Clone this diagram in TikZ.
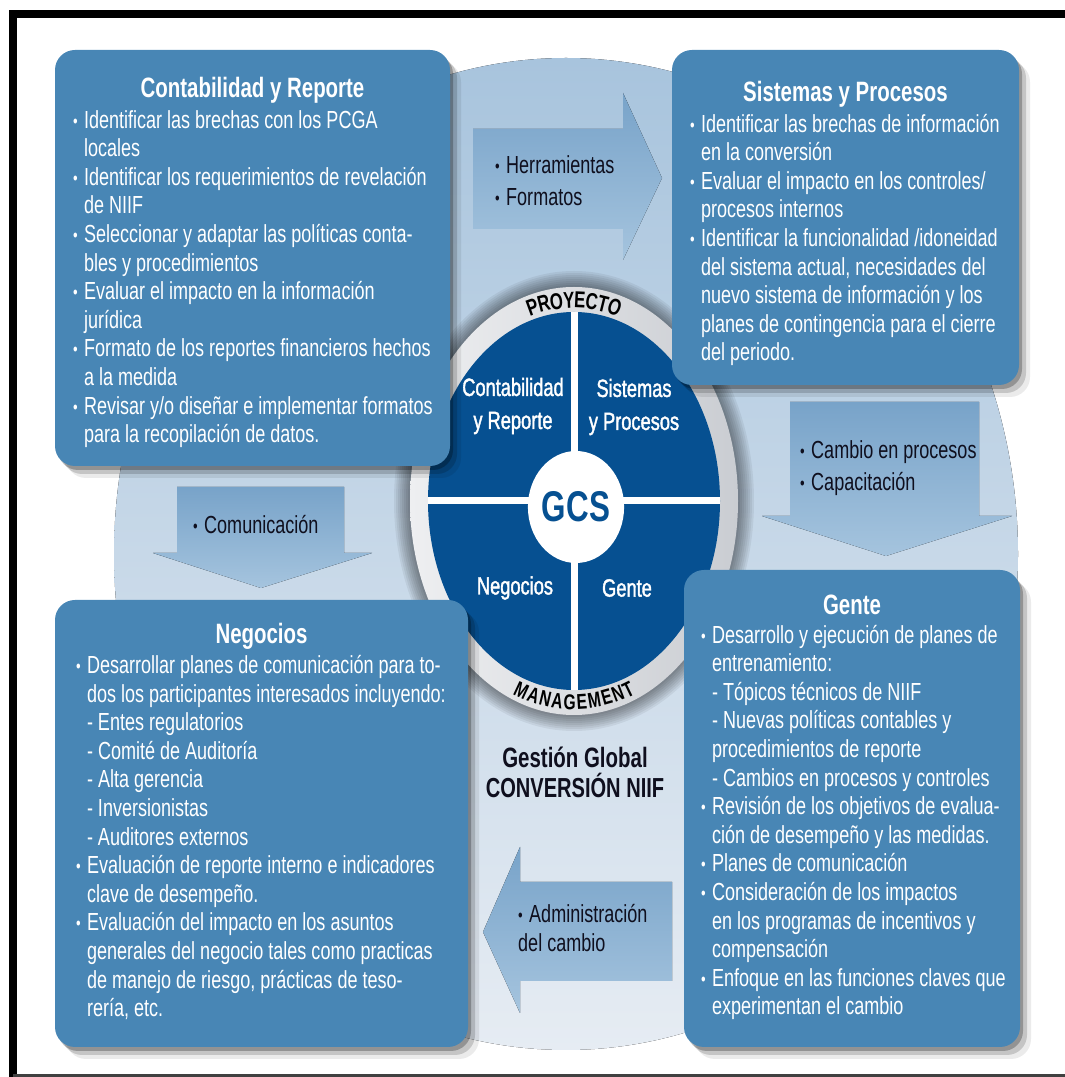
\documentclass[tikz,border=0pt]{standalone}
\usepackage{fontspec}
\setmainfont{Liberation Sans}[FakeStretch=0.73]
\newfontfamily\labelfamily{Liberation Sans}[FakeStretch=0.73,FakeBold=1.5]
\usetikzlibrary{shapes.geometric,shadows}

\definecolor{panelblue}{RGB}{72,134,181}
\definecolor{diskblue}{RGB}{6,80,145}
\definecolor{ringlight}{RGB}{238,239,241}
\definecolor{ringdark}{RGB}{202,205,210}
\definecolor{bgtop}{RGB}{168,196,221}
\definecolor{bgbottom}{RGB}{230,236,243}
\definecolor{arrowtop}{RGB}{120,163,201}
\definecolor{arrowbottom}{RGB}{165,196,222}
\definecolor{inkblack}{RGB}{15,15,30}

\newcommand{\bul}{\makebox[11pt][l]{\raisebox{1pt}{\fontsize{18}{18}\selectfont\textbullet}}}
\newcommand{\ind}{\hspace*{11pt}}

\begin{document}
\begin{tikzpicture}[
  x=1pt, y=1pt,
  panel/.style={rectangle, rounded corners=20pt, fill=panelblue, inner sep=0pt,
    drop shadow={shadow xshift=3pt, shadow yshift=-4pt, opacity=.25, fill=black},
    drop shadow={shadow xshift=7pt, shadow yshift=-8pt, opacity=.16, fill=black},
    drop shadow={shadow xshift=11pt, shadow yshift=-12pt, opacity=.08, fill=black}},
  paneltitle/.style={anchor=base, inner sep=0pt, text=white,
    font=\bfseries\fontsize{28}{32}\selectfont},
  paneltext/.style={anchor=north west, align=left, inner sep=0pt, text=white,
    font=\fontsize{24.7}{28.6}\selectfont},
  arrowtext/.style={anchor=north west, align=left, inner sep=0pt, text=inkblack,
    font=\fontsize{24.7}{32}\selectfont},
  quadlabel/.style={align=center, inner sep=0pt, text=white,
    font=\labelfamily\fontsize{25}{33}\selectfont},
  ringletter/.style={inner sep=0pt, text=black,
    font=\bfseries\fontsize{23}{23}\selectfont},
  flowarrow/.style={top color=arrowtop, bottom color=arrowbottom}
  ]

  \useasboundingbox (0,0) rectangle (1065,1077);

  % backdrop
  \fill[top color=bgtop, bottom color=bgbottom] (566,523) ellipse [x radius=452, y radius=496];

  % block arrows between the panels
  \fill[flowarrow] (473,848) -- (623,848) -- (623,817) -- (662,899)
    -- (623,984) -- (623,948) -- (473,948) -- cycle;
  \fill[flowarrow] (790,675) -- (979,675) -- (979,561) -- (1012,561)
    -- (886,521) -- (762,561) -- (790,561) -- cycle;
  \fill[flowarrow] (177,590) -- (344,590) -- (344,524) -- (372,524)
    -- (261,489) -- (153,524) -- (177,524) -- cycle;
  \fill[flowarrow] (672,96) -- (672,195) -- (520,195) -- (520,230)
    -- (483,145) -- (520,64) -- (520,96) -- cycle;

  \node[arrowtext] (tools)   at (495,926) {\strut\bul Herramientas\\\bul Formatos};
  \node[arrowtext] (change)  at (800,641) {\strut\bul Cambio en procesos\\\bul Capacitación};
  \node[arrowtext] (comm)    at (193,566) {\strut\bul Comunicación};
  \node[arrowtext, font=\fontsize{24.7}{29}\selectfont]
                   (admin)   at (518,175) {\strut\bul Administración\\del cambio};

  % ring with its soft shadow
  \foreach \d [evaluate=\d as \rx using 164+\d, evaluate=\d as \ry using 214+\d] in {2,4,...,16}
    \fill[black, opacity=.06] (574,576) ellipse [x radius=\rx, y radius=\ry];
  \node[ellipse, minimum width=328pt, minimum height=428pt, inner sep=0pt,
        left color=ringlight, right color=ringdark] (ring) at (574,576) {};
  \node[ellipse, minimum width=292pt, minimum height=378pt, inner sep=0pt,
        fill=diskblue] (disk) at (574,576) {};
  \draw[white, line width=7pt] (disk.north) -- (disk.south);
  \draw[white, line width=7pt] (disk.west) -- (disk.east);
  \node[ellipse, fill=white, minimum width=90pt, minimum height=112pt, inner sep=0pt,
        text=diskblue, font=\bfseries\fontsize{43}{43}\selectfont] (gcs) at (576,570) {GCS};

  \node[quadlabel] (qcont)  at (513,671) {Contabilidad\\y Reporte};
  \node[quadlabel] (qsist)  at (634,670) {Sistemas\\y Procesos};
  \node[quadlabel] (qneg)   at (515,489) {Negocios};
  \node[quadlabel] (qgente) at (627,489) {Gente};

  % lettering around the ring, one letter per angle
  \foreach \ch/\t [count=\i] in {P/105.6,R/101.2,O/96.5,Y/91.9,E/87.8,C/83.4,T/79.2,O/74.8} {
    \pgfmathsetmacro\r{atan2(-201*cos(\t),155*sin(\t))}
    \node[ringletter, rotate=\r] (proj\i) at ([shift={(\t:155 and 201)}]ring.center) {\ch};
  }
  \foreach \ch/\t [count=\i] in {M/250.2,A/254.9,N/259.4,A/263.8,G/268.4,
                                 E/272.9,M/277.5,E/282.2,N/286.4,T/290.5} {
    \pgfmathsetmacro\r{atan2(201*cos(\t),-155*sin(\t))}
    \node[ringletter, rotate=\r, font=\bfseries\fontsize{21.5}{21.5}\selectfont]
      (mgmt\i) at ([shift={(\t:155 and 201)}]ring.center) {\ch};
  }

  % the four panels
  \node[panel, minimum width=395pt, minimum height=416pt] (cont)  at (252.5,819) {};
  \node[panel, minimum width=347pt, minimum height=335pt] (sist)  at (845.5,859.5) {};
  \node[panel, minimum width=413pt, minimum height=447pt] (neg)   at (261.5,253.5) {};
  \node[panel, minimum width=336pt, minimum height=477pt] (gente) at (852,268.5) {};

  \node[paneltitle] (cont title) at ([yshift=-48pt]cont.north) {Contabilidad y Reporte};
  \node[paneltext] (cont text) at ([xshift=18pt,yshift=-58pt]cont.north west)
    {\strut\bul Identificar las brechas con los PCGA\\
     \ind locales\\
     \bul Identificar los requerimientos de revelación\\
     \ind de NIIF\\
     \bul Seleccionar y adaptar las políticas conta-\\
     \ind bles y procedimientos\\
     \bul Evaluar el impacto en la información\\
     \ind jurídica\\
     \bul Formato de los reportes financieros hechos\\
     \ind a la medida\\
     \bul Revisar y/o diseñar e implementar formatos\\
     \ind para la recopilación de datos.};

  \node[paneltitle] (sist title) at ([yshift=-52pt]sist.north) {Sistemas y Procesos};
  \node[paneltext] (sist text) at ([xshift=18pt,yshift=-62pt]sist.north west)
    {\strut\bul Identificar las brechas de información\\
     \ind en la conversión\\
     \bul Evaluar el impacto en los controles/\\
     \ind procesos internos\\
     \bul Identificar la funcionalidad /idoneidad\\
     \ind del sistema actual, necesidades del\\
     \ind nuevo sistema de información y los\\
     \ind planes de contingencia para el cierre\\
     \ind del periodo.};

  \node[paneltitle] (neg title) at ([yshift=-44pt]neg.north) {Negocios};
  \node[paneltext] (neg text) at ([xshift=21pt,yshift=-53.5pt]neg.north west)
    {\strut\bul Desarrollar planes de comunicación para to-\\
     \ind dos los participantes interesados incluyendo:\\
     \ind - Entes regulatorios\\
     \ind - Comité de Auditoría\\
     \ind - Alta gerencia\\
     \ind - Inversionistas\\
     \ind - Auditores externos\\
     \bul Evaluación de reporte interno e indicadores\\
     \ind clave de desempeño.\\
     \bul Evaluación del impacto en los asuntos\\
     \ind generales del negocio tales como practicas\\
     \ind de manejo de riesgo, prácticas de teso-\\
     \ind rería, etc.};

  \node[paneltitle] (gente title) at ([yshift=-45pt]gente.north) {Gente};
  \node[paneltext] (gente text) at ([xshift=17pt,yshift=-53pt]gente.north west)
    {\strut\bul Desarrollo y ejecución de planes de\\
     \ind entrenamiento:\\
     \ind - Tópicos técnicos de NIIF\\
     \ind - Nuevas políticas contables y\\
     \ind procedimientos de reporte\\
     \ind - Cambios en procesos y controles\\
     \bul Revisión de los objetivos de evalua-\\
     \ind ción de desempeño y las medidas.\\
     \bul Planes de comunicación\\
     \bul Consideración de los impactos\\
     \ind en los programas de incentivos y\\
     \ind compensación\\
     \bul Enfoque en las funciones claves que\\
     \ind experimentan el cambio};

  \node[anchor=base, inner sep=0pt, text=inkblack,
        font=\bfseries\fontsize{28}{28}\selectfont] (global) at (575,309) {Gestión Global};
  \node[anchor=base, inner sep=0pt, text=inkblack,
        font=\bfseries\fontsize{27.5}{28}\selectfont] (niif) at ([yshift=-30pt]global.base) {CONVERSIÓN NIIF};

  % frame
  \draw[line width=8pt] (9,1063) -- (1065,1063);
  \draw[line width=8pt] (13,0) -- (13,1067);
  \draw[line width=2.5pt, black!75] (13,1.5) -- (1065,1.5);
\end{tikzpicture}
\end{document}
